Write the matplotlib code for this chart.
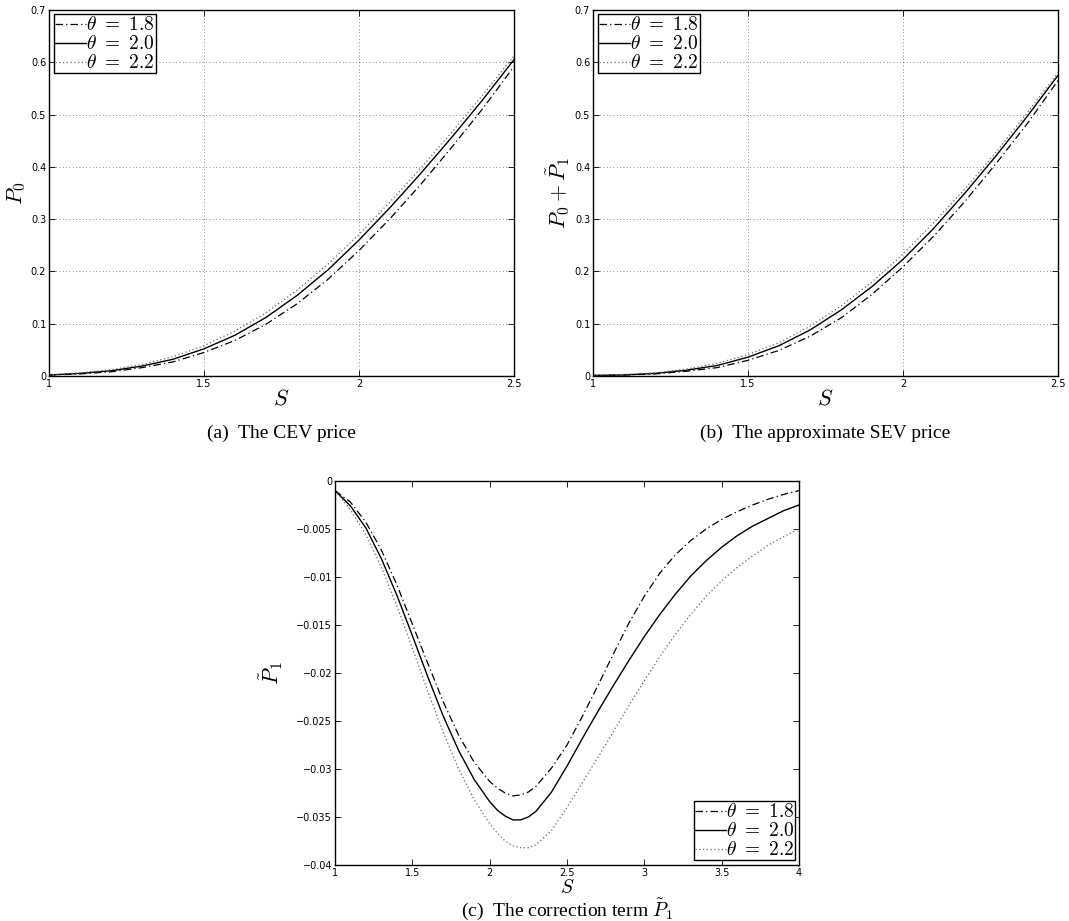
from __future__ import annotations

import matplotlib

matplotlib.use("Agg")

import matplotlib.pyplot as plt
import numpy as np

plt.rcParams["mathtext.fontset"] = "cm"
plt.rcParams["font.family"] = ["DejaVu Sans"]

# S grids
S_PRICE = [1.0, 1.1, 1.2, 1.3, 1.4, 1.5, 1.6, 1.7, 1.8, 1.9, 2.0, 2.1, 2.2, 2.3, 2.4, 2.5]
S_CORR = [1.0, 1.1, 1.2, 1.3, 1.4, 1.5, 1.6, 1.7, 1.8, 1.9, 2.0, 2.05, 2.1, 2.15, 2.2, 2.25, 2.3, 2.4, 2.5,
          2.6, 2.7, 2.8, 2.9, 3.0, 3.1, 3.2, 3.3, 3.4, 3.5, 3.6, 3.7, 3.8, 3.9, 4.0]

THETAS = ["1.8", "2.0", "2.2"]

# (a) CEV price P0
P0_18 = [0.002, 0.004, 0.008, 0.016, 0.027, 0.045, 0.068, 0.099, 0.138, 0.185, 0.240, 0.301, 0.367, 0.438, 0.512, 0.592]
P0_20 = [0.002, 0.005, 0.010, 0.019, 0.032, 0.052, 0.078, 0.112, 0.154, 0.203, 0.260, 0.322, 0.388, 0.457, 0.529, 0.605]
P0_22 = [0.002, 0.006, 0.012, 0.022, 0.037, 0.058, 0.086, 0.121, 0.164, 0.214, 0.271, 0.333, 0.398, 0.467, 0.538, 0.612]

# (b) approximate SEV price P0 + P1~
SEV_18 = [0.001, 0.002, 0.004, 0.009, 0.016, 0.030, 0.049, 0.076, 0.111, 0.156, 0.209, 0.268, 0.334, 0.406, 0.482, 0.565]
SEV_20 = [0.001, 0.002, 0.005, 0.011, 0.020, 0.036, 0.058, 0.088, 0.126, 0.171, 0.223, 0.283, 0.350, 0.421, 0.496, 0.575]
SEV_22 = [0.001, 0.003, 0.006, 0.013, 0.024, 0.041, 0.064, 0.095, 0.134, 0.180, 0.233, 0.294, 0.358, 0.428, 0.503, 0.580]

# (c) correction term P1~
P1_18 = [-0.0010, -0.0022, -0.0043, -0.0072, -0.0108, -0.0149, -0.0190, -0.0230, -0.0265, -0.0293,
         -0.0313, -0.0320, -0.0325, -0.0328, -0.0327, -0.0324, -0.0318, -0.0299, -0.0275, -0.0245,
         -0.0213, -0.0180, -0.0148, -0.0120, -0.0096, -0.0077, -0.0062, -0.0050, -0.0040, -0.0032,
         -0.0025, -0.0019, -0.0014, -0.0010]
P1_20 = [-0.0010, -0.0026, -0.0049, -0.0081, -0.0119, -0.0161, -0.0204, -0.0245, -0.0281, -0.0311,
         -0.0334, -0.0343, -0.0349, -0.0353, -0.0353, -0.0350, -0.0344, -0.0324, -0.0297, -0.0268,
         -0.0240, -0.0213, -0.0187, -0.0162, -0.0139, -0.0118, -0.0099, -0.0083, -0.0069, -0.0057,
         -0.0047, -0.0039, -0.0031, -0.0025]
P1_22 = [-0.0010, -0.0030, -0.0056, -0.0090, -0.0130, -0.0174, -0.0219, -0.0262, -0.0300, -0.0332,
         -0.0357, -0.0367, -0.0375, -0.0380, -0.0382, -0.0382, -0.0379, -0.0364, -0.0340, -0.0314,
         -0.0288, -0.0261, -0.0234, -0.0208, -0.0183, -0.0160, -0.0139, -0.0120, -0.0104, -0.0090,
         -0.0078, -0.0067, -0.0058, -0.0050]

STYLES = [
    dict(color="black", lw=0.9, ls=(0, (6, 2.5, 1, 2.5))),
    dict(color="black", lw=1.0, ls="-"),
    dict(color="#666666", lw=0.9, ls=(0, (1, 2))),
]


def style_axes(ax, grid: bool) -> None:
    ax.tick_params(direction="in", top=True, right=True, labelsize=7, pad=2, length=4, width=0.6)
    for sp in ax.spines.values():
        sp.set_linewidth(1.0)
    if grid:
        ax.grid(True, color="#666666", ls=(0, (1, 3)), lw=0.6)


def add_legend(ax, loc: str, bbox) -> None:
    leg = ax.legend(loc=loc, bbox_to_anchor=bbox, fontsize=14, labelspacing=0.0,
                    handlelength=1.6, handletextpad=0.0, borderpad=0.05, borderaxespad=0,
                    fancybox=False, framealpha=1, edgecolor="black")
    leg.get_frame().set_linewidth(1.0)


def draw_price(ax, series, ylabel: str) -> None:
    for vals, theta, st in zip(series, THETAS, STYLES):
        ax.plot(S_PRICE, vals, label=rf"$\theta\ =\ {theta}$", **st)
    ax.set_xlim(1, 2.5)
    ax.set_ylim(0, 0.7)
    ax.set_xticks([1, 1.5, 2, 2.5], labels=["1", "1.5", "2", "2.5"])
    ax.set_yticks(np.arange(0, 0.71, 0.1), labels=["0", "0.1", "0.2", "0.3", "0.4", "0.5", "0.6", "0.7"])
    ax.set_xlabel(r"$S$", fontsize=16, labelpad=0)
    ax.set_ylabel(ylabel, fontsize=16, labelpad=2)
    style_axes(ax, grid=True)
    add_legend(ax, "upper left", (0.011, 0.988))


def main() -> None:
    fig = plt.figure(figsize=(10.69, 9.21), dpi=100)
    W, H = 1069, 921

    def axes_px(x0, y0, x1, y1):
        return fig.add_axes([x0 / W, 1 - y1 / H, (x1 - x0) / W, (y1 - y0) / H])

    ax_a = axes_px(49, 10, 514, 376)
    ax_b = axes_px(593, 10, 1058, 376)
    ax_c = axes_px(335, 481, 799, 865)

    draw_price(ax_a, [P0_18, P0_20, P0_22], r"$P_0$")
    draw_price(ax_b, [SEV_18, SEV_20, SEV_22], r"$P_0+\tilde{P}_1$")

    for vals, theta, st in zip([P1_18, P1_20, P1_22], THETAS, STYLES):
        ax_c.plot(S_CORR, vals, label=rf"$\theta\ =\ {theta}$", **st)
    ax_c.set_xlim(1, 4)
    ax_c.set_ylim(-0.04, 0)
    ax_c.set_xticks([1, 1.5, 2, 2.5, 3, 3.5, 4], labels=["1", "1.5", "2", "2.5", "3", "3.5", "4"])
    yt = [0, -0.005, -0.01, -0.015, -0.02, -0.025, -0.03, -0.035, -0.04]
    ax_c.set_yticks(yt, labels=["0", "\u22120.005", "\u22120.01", "\u22120.015", "\u22120.02",
                                "\u22120.025", "\u22120.03", "\u22120.035", "\u22120.04"])
    ax_c.set_xlabel(r"$S$", fontsize=14, labelpad=0)
    ax_c.set_ylabel(r"$\tilde{P}_1$", fontsize=16, labelpad=8)
    style_axes(ax_c, grid=False)
    add_legend(ax_c, "lower right", (0.992, 0.012))

    cap = dict(fontsize=14, family=["Liberation Serif"], ha="center", va="center")
    fig.text(281 / W, 1 - 433 / H, "(a)  The CEV price", **cap)
    fig.text(825 / W, 1 - 433 / H, "(b)  The approximate SEV price", **cap)
    fig.text(567 / W, 1 - 909 / H, r"(c)  The correction term $\tilde{P}_1$", **cap)

    fig.savefig("out.png", dpi=100)
    plt.close(fig)


if __name__ == "__main__":
    main()
